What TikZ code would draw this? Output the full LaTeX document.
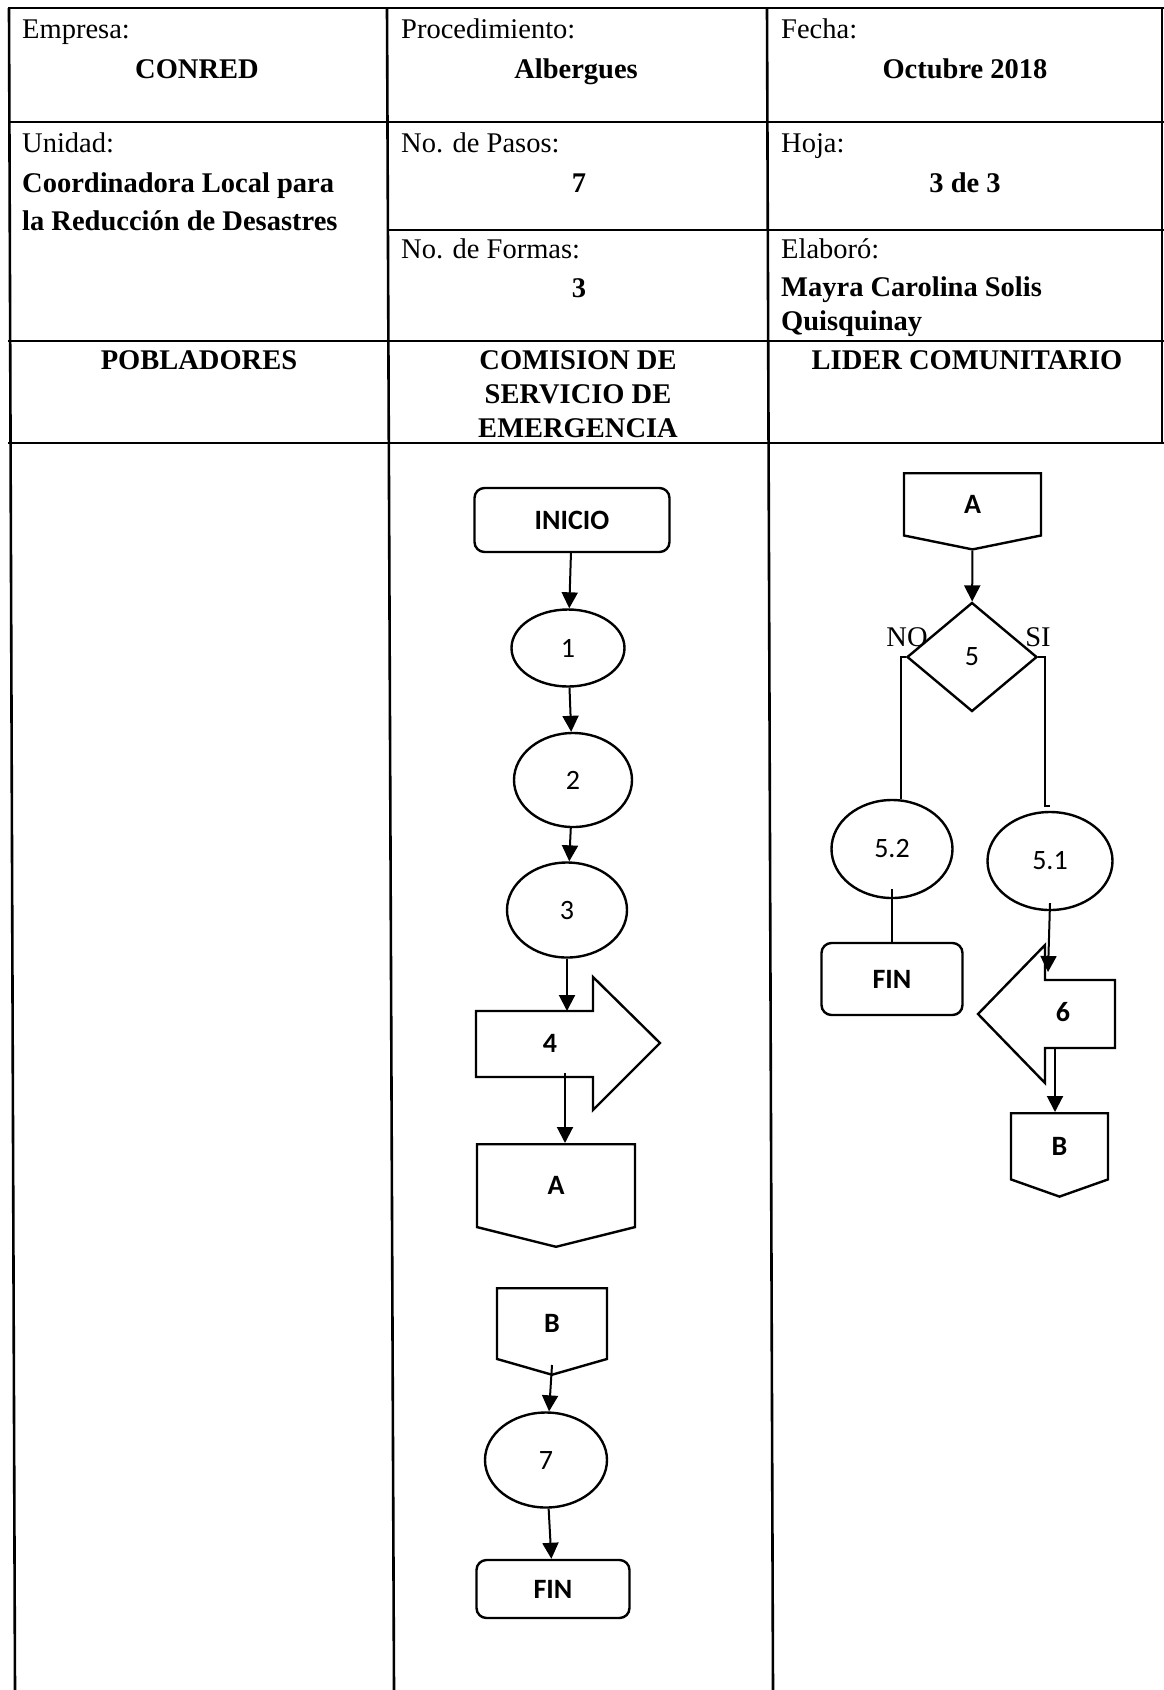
\documentclass[tikz,border=0pt]{standalone}
\usepackage{fontspec}
\setmainfont{Liberation Serif}
\newfontfamily\flowfont{Carlito}
\usetikzlibrary{shapes.geometric,shapes.symbols,arrows.meta}

\tikzset{
    cell/.style={inner sep=0pt, font=\fontsize{28.5}{34}\selectfont},
    celltitle/.style={inner sep=0pt, font=\fontsize{28.5}{34}\selectfont\bfseries},
    rule/.style={line width=2.6pt},
    shapeline/.style={draw, line width=2.4pt, inner sep=0pt, font=\fontsize{28}{32}\flowfont},
    terminal/.style={shapeline, rectangle, rounded corners=10pt, font=\fontsize{28}{32}\flowfont\bfseries},
    activity/.style={shapeline, ellipse},
    decision/.style={shapeline, diamond},
    offpage/.style={shapeline, signal, signal to=south, font=\fontsize{28}{32}\flowfont\bfseries},
    arrowlabel/.style={inner sep=0pt, font=\fontsize{28}{32}\flowfont\bfseries},
    blockarrow/.style={line width=2.4pt, line join=miter},
    flow/.style={line width=2pt, -{Triangle[width=16pt,length=16pt]}},
    link/.style={line width=2pt}
}

\begin{document}
\begin{tikzpicture}[x=1pt, y=-1pt]

    \useasboundingbox (0,0) rectangle (1164,1690);

    % table
    \draw[rule] (8,8) -- (1164,8);
    \draw[rule] (8,122) -- (1164,122);
    \draw[rule] (387,230) -- (1164,230);
    \draw[rule] (8,341) -- (1164,341);
    \draw[rule] (8,443) -- (1164,443);
    \draw[rule] (9,8) -- (15,1690);
    \draw[rule] (387,8) -- (394,1690);
    \draw[rule] (767,8) -- (773,1690);
    \draw[rule] (1162,8) -- (1162,443);

    \node[cell, anchor=base west] (empresa) at (22,38) {Empresa:};
    \node[celltitle, anchor=base] (conred) at (197,78) {CONRED};
    \node[cell, anchor=base west] (proc) at (401,38) {Procedimiento:};
    \node[celltitle, anchor=base] (albergues) at (576,78) {Albergues};
    \node[cell, anchor=base west] (fecha) at (781,38) {Fecha:};
    \node[celltitle, anchor=base] (mes) at (965,78) {Octubre 2018};

    \node[cell, anchor=base west] (unidad) at (22,152) {Unidad:};
    \node[celltitle, anchor=north west, align=left] (coord) at (22,172.5)
        {Coordinadora Local para\\[4pt]la Reducción de Desastres};
    \node[cell, anchor=base west] (pasos) at (401,152) {No. de Pasos:};
    \node[celltitle, anchor=base] (npasos) at (579,192) {7};
    \node[cell, anchor=base west] (hoja) at (781,152) {Hoja:};
    \node[celltitle, anchor=base] (nhoja) at (965,192) {3 de 3};

    \node[cell, anchor=base west] (formas) at (401,258) {No. de Formas:};
    \node[celltitle, anchor=base] (nformas) at (579,297) {3};
    \node[cell, anchor=base west] (elaboro) at (781,258) {Elaboró:};
    \node[celltitle, anchor=north west, align=left] (autor) at (781,276.6)
        {Mayra Carolina Solis\\Quisquinay};

    \node[celltitle, anchor=base] (pobladores) at (199,369) {POBLADORES};
    \node[celltitle, anchor=north, align=center] (comision) at (578,350)
        {COMISION DE\\SERVICIO DE\\EMERGENCIA};
    \node[celltitle, anchor=base] (lider) at (967,369) {LIDER COMUNITARIO};

    % comision
    \node[terminal, minimum width=195, minimum height=64] (inicio) at (572,520) {INICIO};
    \node[activity, minimum width=113, minimum height=77] (p1) at (568,648) {1};
    \node[activity, minimum width=118, minimum height=94] (p2) at (573,780) {2};
    \node[activity, minimum width=120, minimum height=95] (p3) at (567,910) {3};
    \draw[blockarrow] (476,1011) -- (593,1011) -- (593,977) -- (660,1043)
        -- (593,1110) -- (593,1077) -- (476,1077) -- cycle;
    \node[arrowlabel] (p4) at (550,1043) {4};
    \coordinate (p4in) at (567,1011);
    \coordinate (p4out) at (565,1073);
    \node[offpage, minimum width=158, minimum height=85, signal pointer angle=152,
        anchor=north] (conA) at (556,1143) {A};
    \node[offpage, minimum width=110, minimum height=73, signal pointer angle=148,
        anchor=north] (conB) at (552,1287) {B};
    \node[activity, minimum width=122, minimum height=95] (p7) at (546,1460) {7};
    \node[terminal, minimum width=153, minimum height=58] (fin1) at (553,1589) {FIN};

    % lider
    \node[offpage, minimum width=137, minimum height=64, signal pointer angle=157,
        anchor=north] (conA2) at (972.5,472) {A};
    \node[decision, minimum width=130, minimum height=109] (p5) at (972,657) {5};
    \node[cell] (no) at (907,637) {NO};
    \node[cell] (si) at (1038,637) {SI};
    \node[activity, minimum width=121, minimum height=98] (p52) at (892,849) {5.2};
    \node[activity, minimum width=125, minimum height=98] (p51) at (1050,861) {5.1};
    \node[terminal, minimum width=141, minimum height=72] (fin2) at (892,979) {FIN};
    \draw[blockarrow] (1115,980) -- (1045,980) -- (1045,945) -- (978,1014)
        -- (1045,1083) -- (1045,1048) -- (1115,1048) -- cycle;
    \node[arrowlabel] (p6) at (1063,1012) {6};
    \coordinate (p6in) at (1048,972);
    \coordinate (p6out) at (1055,1048);
    \node[offpage, minimum width=97, minimum height=69, signal pointer angle=141,
        anchor=north] (conB2) at (1059.5,1112) {B};

    \draw[flow] (inicio) -- (p1);
    \draw[flow] (p1) -- (p2);
    \draw[flow] (p2) -- (p3);
    \draw[flow] (p3) -- (p4in);
    \draw[flow] (p4out) -- (p4out |- conA.north);
    \draw[flow] ([yshift=11pt]conB.south) -- (p7);
    \draw[flow] (p7) -- (fin1);

    \draw[flow] (conA2) -- (p5);
    \draw[link] (p5.west) -| ([xshift=9pt]p52.north);
    \draw[link] (p5.east) -- ++(7,0) |- ([yshift=5pt]p51.north);
    \draw[link] ([yshift=10pt]p52.south) -- (fin2);
    \draw[flow] ([yshift=8pt]p51.south) -- (p6in);
    \draw[flow] (p6out) -- (p6out |- conB2.north);

\end{tikzpicture}
\end{document}
